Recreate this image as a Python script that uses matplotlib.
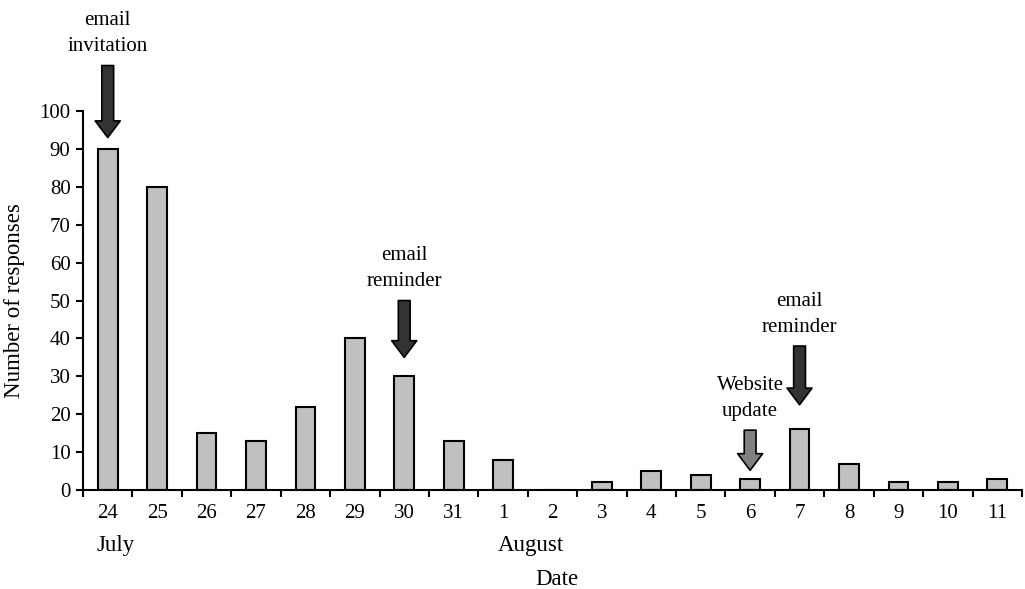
import numpy as np
import matplotlib
matplotlib.use("Agg")
import matplotlib.pyplot as plt

dias = ["24", "25", "26", "27", "28", "29", "30", "31", "1", "2",
        "3", "4", "5", "6", "7", "8", "9", "10", "11"]
respuestas = [90, 80, 15, 13, 22, 40, 30, 13, 8, 0,
              2, 5, 4, 3, 16, 7, 2, 2, 3]

# (indice del dia, texto, y inicio, y fin, color)
eventos = [
    (0, "email\ninvitation", 112, 93, "#333333"),
    (6, "email\nreminder", 50, 35, "#333333"),
    (14, "email\nreminder", 38, 22.5, "#333333"),
    (13, "Website\nupdate", 15.8, 5.2, "#808080"),
]

plt.rcParams['font.family'] = ['Liberation Serif', 'DejaVu Serif']
plt.rcParams['font.size'] = 15

fig = plt.figure(figsize=(10.25, 5.89), dpi=100)
ax = fig.add_axes([0.081, 0.168, 0.916, 0.6435])

x = np.arange(len(dias))
ax.bar(x, respuestas, width=0.4, color="#c0c0c0", edgecolor="black", linewidth=1.5)

ax.set_xlim(-0.5, len(dias) - 0.5)
ax.set_ylim(0, 100)
ax.set_yticks(range(0, 101, 10))
ax.set_xticks(x)
ax.set_xticklabels(dias)
ax.set_xticks(np.arange(-0.5, len(dias), 1), minor=True)
ax.tick_params(axis="x", which="major", length=0, pad=10)
ax.tick_params(axis="x", which="minor", length=5, width=1.5, direction="out")
ax.tick_params(axis="y", length=5, width=1.5, pad=4)

for s in ["top", "right"]:
    ax.spines[s].set_visible(False)
ax.spines["left"].set_linewidth(1.5)
ax.spines["bottom"].set_linewidth(1.5)

ax.text(-0.0735, 0.5, "Number of responses", transform=ax.transAxes, rotation=90,
        ha="center", va="center", fontsize=16.5)
ax.text(0.505, -0.237, "Date", transform=ax.transAxes, ha="center", va="center", fontsize=16.5)
ax.text(-0.23, -0.145, "July", transform=ax.get_xaxis_transform(), ha="left", va="center",
        fontsize=16.5)
ax.text(7.9, -0.145, "August", transform=ax.get_xaxis_transform(), ha="left", va="center",
        fontsize=16.5)

for i, txt, y0, y1, col in eventos:
    ax.annotate("", xy=(i, y1), xytext=(i, y0), annotation_clip=False,
                arrowprops=dict(arrowstyle="simple,head_length=12,head_width=18,tail_width=8.5",
                                mutation_scale=1, fc=col, ec="black", lw=1.2,
                                shrinkA=0, shrinkB=0))
    ax.text(i, y0 + 2.5, txt, ha="center", va="bottom", linespacing=1.5, clip_on=False)

fig.savefig("out.png", dpi=100)
